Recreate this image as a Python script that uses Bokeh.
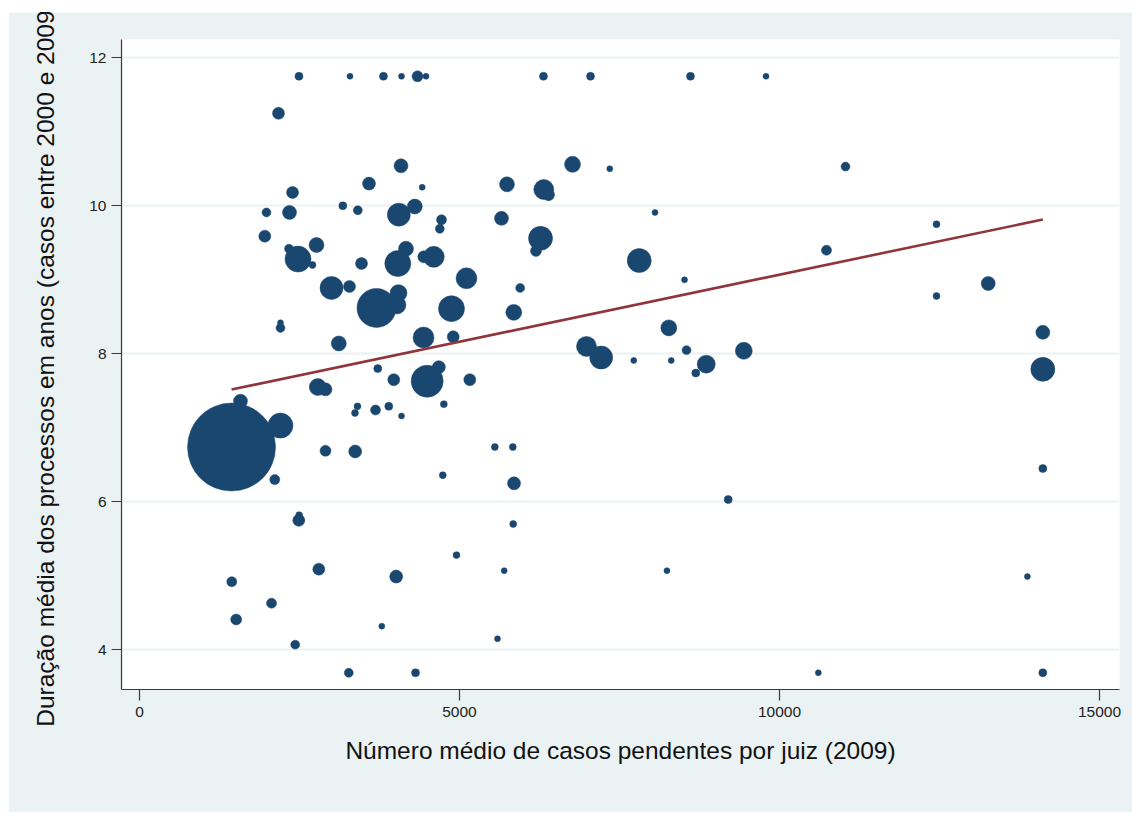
import numpy as np
from bokeh.plotting import figure
from bokeh.models import ColumnDataSource, FixedTicker, Range1d
from bokeh.embed import file_html
from bokeh.resources import INLINE

# Número médio de casos pendentes por juiz (2009)
pendentes = [
    2492, 3289, 3812, 4094, 4344, 4477, 6312, 7047, 8609, 9789,
    2172, 4086, 3586, 4417, 5742, 2391, 3177, 3411, 4052, 4302,
    1984, 2344, 4719, 4692, 5656, 1958, 2766, 2336, 2477, 2703,
    3469, 4036, 4164, 4442, 4598, 5109, 6317, 6391, 6766, 7348,
    11031, 8055, 6266, 6195, 7808, 8516, 10734, 5948, 5848, 8270,
    6984, 7214, 7723, 8308, 8547, 8855, 8692, 9442, 12453, 13261,
    12453, 14114, 14114, 3703, 4047, 4023, 3000, 3281, 4875, 2203,
    2203, 3114, 4438, 4902, 3723, 3973, 4495, 4677, 5161, 2786,
    2906, 1438, 1578, 2203, 2114, 2906, 3370, 3406, 3367, 3688,
    3895, 4094, 4755, 4739, 5552, 5833, 5852, 2489, 2495, 5839,
    4953, 2802, 4011, 5698, 1442, 2063, 1511, 3786, 5594, 2433,
    3270, 4313, 9198, 8241, 14114, 13873, 10606, 14114,
]
# Duração média dos processos em anos
duracao = [
    11.75, 11.75, 11.75, 11.75, 11.75, 11.75, 11.75, 11.75, 11.75, 11.75,
    11.25, 10.54, 10.30, 10.25, 10.29, 10.18, 10.00, 9.94, 9.88, 9.99,
    9.91, 9.91, 9.81, 9.69, 9.83, 9.59, 9.47, 9.42, 9.28, 9.20,
    9.22, 9.22, 9.42, 9.31, 9.31, 9.02, 10.22, 10.15, 10.56, 10.50,
    10.53, 9.91, 9.56, 9.39, 9.26, 9.00, 9.40, 8.89, 8.56, 8.35,
    8.10, 7.95, 7.91, 7.91, 8.05, 7.86, 7.74, 8.04, 9.75, 8.95,
    8.78, 8.29, 7.79, 8.62, 8.82, 8.66, 8.89, 8.91, 8.61, 8.42,
    8.35, 8.14, 8.22, 8.23, 7.80, 7.65, 7.63, 7.82, 7.65, 7.55,
    7.52, 6.74, 7.36, 7.03, 6.30, 6.69, 6.68, 7.29, 7.20, 7.24,
    7.29, 7.16, 7.32, 6.36, 6.74, 6.74, 6.25, 5.75, 5.82, 5.70,
    5.28, 5.09, 4.99, 5.07, 4.92, 4.63, 4.41, 4.32, 4.15, 4.07,
    3.69, 3.69, 6.03, 5.07, 6.45, 4.99, 3.69, 3.69,
]
# Peso (tamanho da bolha)
peso = [
    16, 9, 16, 9, 30, 9, 16, 16, 16, 9,
    36, 49, 42, 9, 56, 36, 16, 20, 132, 56,
    20, 49, 25, 20, 49, 36, 56, 20, 169, 12,
    36, 169, 56, 36, 110, 110, 100, 36, 64, 9,
    20, 9, 144, 30, 144, 9, 25, 20, 64, 64,
    100, 132, 9, 9, 20, 81, 16, 72, 12, 49,
    12, 49, 144, 380, 72, 81, 132, 36, 169, 9,
    20, 56, 110, 36, 16, 36, 256, 42, 36, 72,
    42, 1936, 49, 156, 25, 30, 42, 12, 12, 25,
    16, 9, 12, 12, 12, 12, 42, 36, 12, 12,
    12, 36, 42, 9, 25, 25, 30, 9, 9, 20,
    20, 16, 16, 9, 16, 9, 9, 16,
]

fit_intercept = 7.257
fit_slope = 0.0001812

x_ticks = [0, 5000, 10000, 15000]
y_ticks = [4, 6, 8, 10, 12]

BG = "#EAF2F3"
NAVY = "#1a476f"
MAROON = "#90353b"
FONT = "Liberation Sans"

src = ColumnDataSource(dict(
    x=pendentes,
    y=duracao,
    size=list(2.0 * np.sqrt(np.array(peso, dtype=float))),
))

xs = np.array(pendentes, dtype=float)
fit_x = [xs.min(), xs.max()]
fit_y = [fit_intercept + fit_slope * v for v in fit_x]

p = figure(width=1124, height=800, output_backend="svg", toolbar_location=None,
           x_range=Range1d(-281, 15312), y_range=Range1d(3.464, 12.247),
           min_border_left=113, min_border_right=13, min_border_top=27, min_border_bottom=123)
p.styles = {"margin-left": "8px", "margin-top": "12px"}

p.background_fill_color = "white"
p.border_fill_color = BG
p.outline_line_color = None

p.xgrid.visible = False
p.ygrid.grid_line_color = BG
p.ygrid.grid_line_width = 2
p.ygrid.ticker = FixedTicker(ticks=y_ticks)

p.xaxis.ticker = FixedTicker(ticks=x_ticks)
p.yaxis.ticker = FixedTicker(ticks=y_ticks)

for ax in (p.xaxis, p.yaxis):
    ax.axis_line_color = "#3a3a3a"
    ax.axis_line_width = 1.2
    ax.major_tick_line_color = "#3a3a3a"
    ax.major_tick_line_width = 1.2
    ax.major_tick_in = 0
    ax.minor_tick_line_color = None
    ax.major_label_text_font = FONT
    ax.major_label_text_font_size = "15.5px"
    ax.major_label_text_color = "#222222"
    ax.axis_label_text_font = FONT
    ax.axis_label_text_font_size = "24.5px"
    ax.axis_label_text_font_style = "normal"
    ax.axis_label_text_color = "#111111"

p.xaxis.major_tick_out = 11
p.yaxis.major_tick_out = 10
p.xaxis.major_label_standoff = 6
p.yaxis.major_label_standoff = 5
p.xaxis.axis_label = "Número médio de casos pendentes por juiz (2009)"
p.yaxis.axis_label = "Duração média dos processos em anos (casos entre 2000 e 2009)"
p.xaxis.axis_label_standoff = 17
p.yaxis.axis_label_standoff = 27

p.scatter("x", "y", size="size", source=src, fill_color=NAVY, line_color=NAVY, line_width=0.5)
p.line(fit_x, fit_y, line_color=MAROON, line_width=2.6)

open("out.html", "w").write(file_html(p, INLINE))
